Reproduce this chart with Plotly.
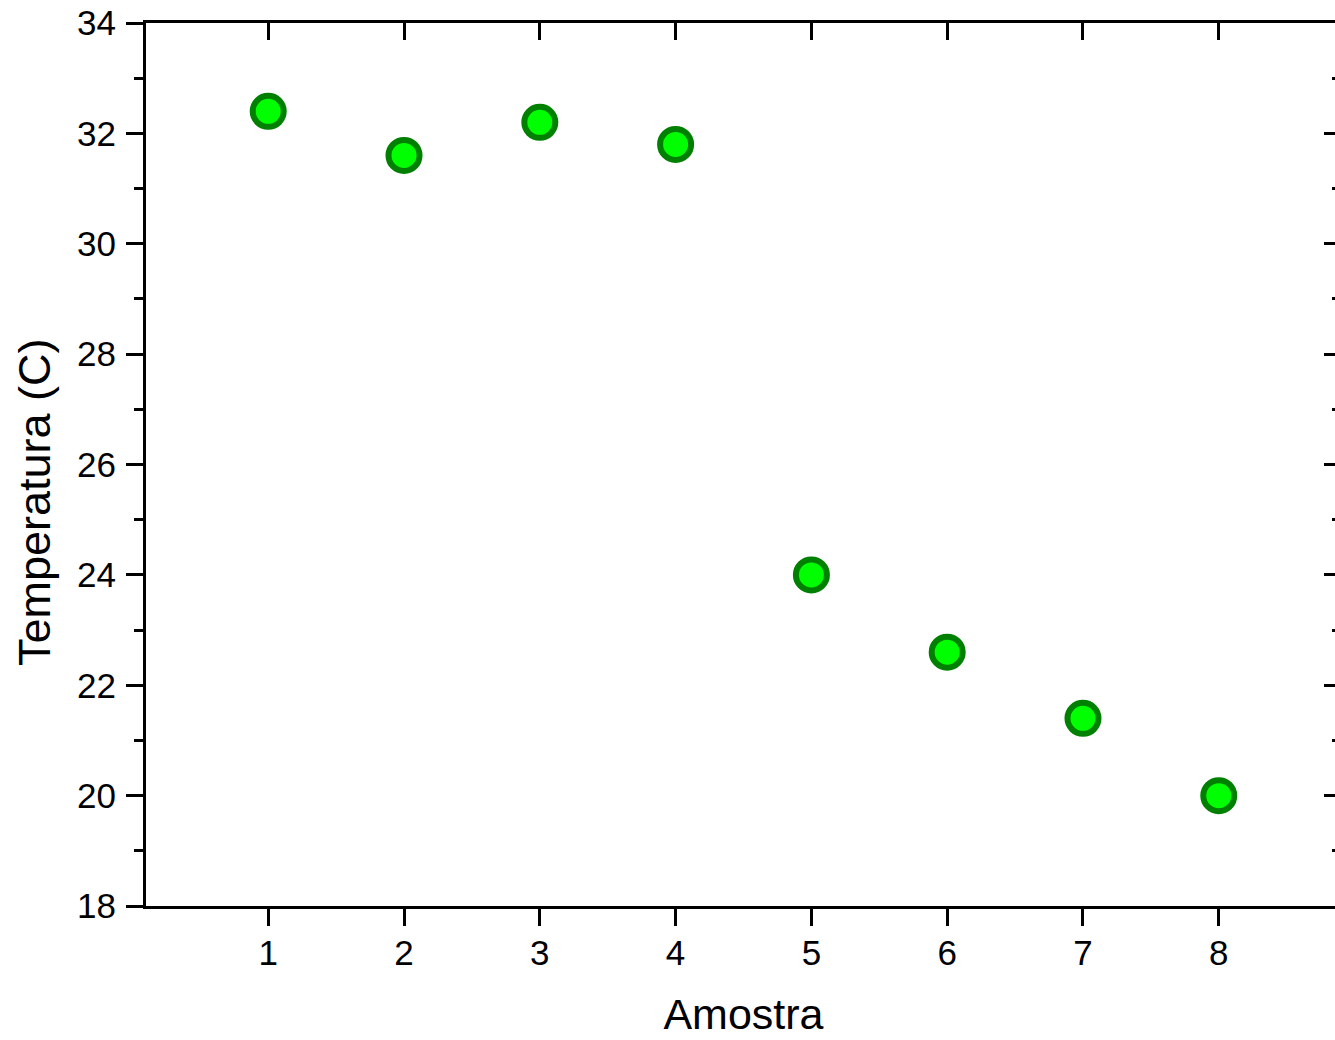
import plotly.graph_objects as go

amostra = [1, 2, 3, 4, 5, 6, 7, 8]
temperatura = [32.4, 31.6, 32.2, 31.8, 24.0, 22.6, 21.4, 20.0]
x_ticks = [1, 2, 3, 4, 5, 6, 7, 8]
y_ticks = [18, 20, 22, 24, 26, 28, 30, 32, 34]

FONT = "Liberation Sans, Arial, sans-serif"
TICK = 35
TITLE = 43

fig = go.Figure()
fig.add_trace(go.Scatter(
    x=amostra, y=temperatura, mode="markers",
    marker=dict(size=31, color="#00FF00", line=dict(color="#008000", width=6)),
    showlegend=False, hoverinfo="x+y",
))
fig.add_trace(go.Scatter(x=[], y=[], xaxis="x2", yaxis="y2", showlegend=False))

common_x = dict(range=[0.1, 8.9], tickvals=x_ticks, showgrid=False, zeroline=False,
                linecolor="black", linewidth=3, tickcolor="black", tickwidth=3, ticklen=17)
common_y = dict(range=[18, 34], tickvals=y_ticks, showgrid=False, zeroline=False,
                linecolor="black", linewidth=3, tickcolor="black", tickwidth=3, ticklen=17)

fig.update_layout(
    width=1341, height=1040,
    margin=dict(l=146, r=0, t=23, b=134),
    paper_bgcolor="white", plot_bgcolor="white",
    font=dict(family=FONT, color="black"),
    xaxis=dict(**common_x, showline=True, ticks="outside", ticklabelstandoff=-3,
               tickfont=dict(size=TICK, family=FONT),
               title=dict(text="Amostra", font=dict(size=TITLE, family=FONT), standoff=28)),
    xaxis2=dict(**common_x, overlaying="x", side="top", showline=True, ticks="inside",
                showticklabels=False),
    yaxis=dict(**common_y, showline=True, ticks="outside", ticklabelstandoff=3,
               tickfont=dict(size=TICK, family=FONT),
               minor=dict(dtick=1, ticks="outside", ticklen=9, tickwidth=3, tickcolor="black")),
    yaxis2=dict(**common_y, overlaying="y", side="right", showline=False, ticks="inside",
                showticklabels=False,
                minor=dict(dtick=1, ticks="inside", ticklen=9, tickwidth=3, tickcolor="black")),
    annotations=[dict(text="Temperatura (C)", textangle=-90, showarrow=False,
                      xref="paper", yref="paper", x=(34 - 146) / 1195, y=(906 - 502) / 883,
                      xanchor="center", yanchor="middle",
                      font=dict(size=45, family=FONT, color="black"))],
)

fig.write_html("out.html", config={"displayModeBar": False},
               post_script="document.body.style.margin='0';document.body.style.overflow='hidden';")
